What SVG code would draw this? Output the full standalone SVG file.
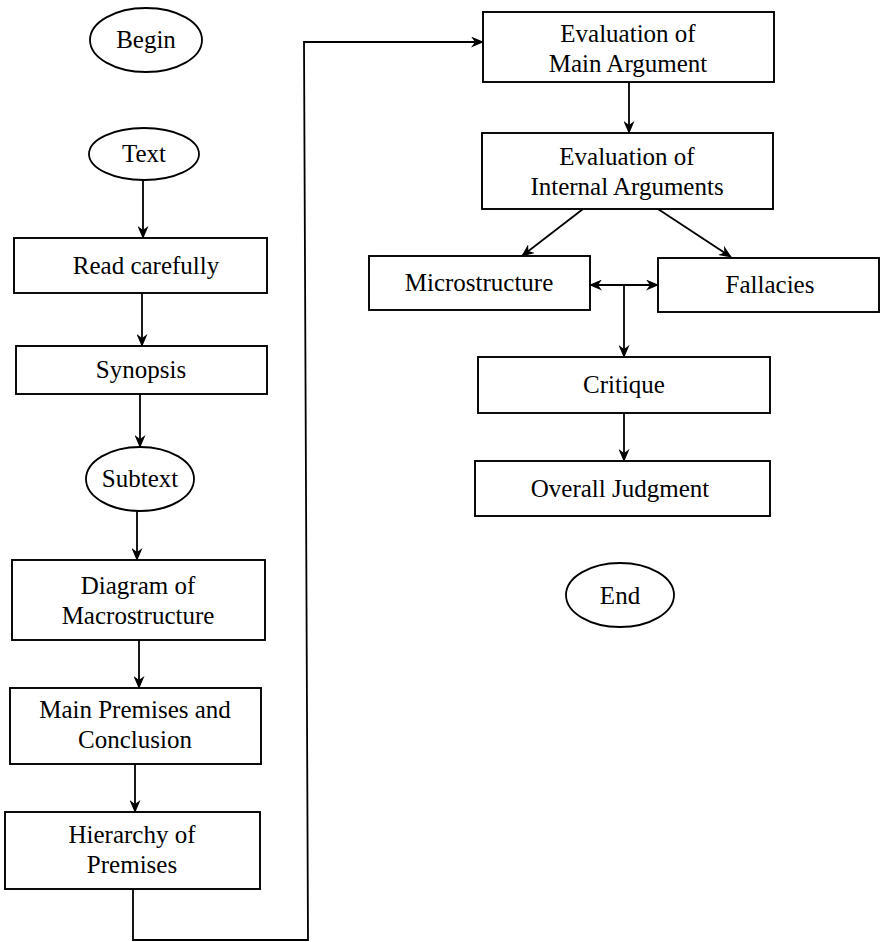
<svg xmlns="http://www.w3.org/2000/svg" width="882" height="942" viewBox="0 0 882 942">
  <defs>
    <marker id="arrow" viewBox="0 0 13 11" refX="12" refY="5.5" markerWidth="13" markerHeight="11" markerUnits="userSpaceOnUse" orient="auto-start-reverse">
      <path d="M0,0 L13,5.5 L0,11 L4,5.5 z" fill="#000"/>
    </marker>
  </defs>
  <style>
    .box { fill: #fff; stroke: #000; stroke-width: 1.9; }
    .oval { fill: #fff; stroke: #000; stroke-width: 1.8; }
    .label { font-family: "Liberation Serif", "Times New Roman", serif; font-size: 25px; fill: #000; text-anchor: middle; }
    .edge { fill: none; stroke: #000; stroke-width: 1.8; }
    .arrow { marker-end: url(#arrow); }
    .both { marker-start: url(#arrow); marker-end: url(#arrow); }
  </style>
  <rect width="882" height="942" fill="#fff"/>

  <!-- connectors -->
  <g id="connectors">
    <line class="edge arrow" x1="143" y1="180" x2="143" y2="238"/>
    <line class="edge arrow" x1="142" y1="293" x2="142" y2="346"/>
    <line class="edge arrow" x1="140" y1="394" x2="140" y2="447"/>
    <line class="edge arrow" x1="137" y1="511" x2="137" y2="560"/>
    <line class="edge arrow" x1="139" y1="640" x2="139" y2="688"/>
    <line class="edge arrow" x1="135" y1="764" x2="135" y2="812"/>
    <polyline class="edge arrow" points="133,889 133,940 308,940 304,42 483,42"/>
    <line class="edge arrow" x1="629" y1="82" x2="629" y2="133"/>
    <line class="edge arrow" x1="583" y1="209" x2="522" y2="256"/>
    <line class="edge arrow" x1="658" y1="209" x2="731" y2="257"/>
    <line class="edge both" x1="590" y1="285" x2="658" y2="285"/>
    <line class="edge arrow" x1="624" y1="285" x2="624" y2="357"/>
    <line class="edge arrow" x1="624" y1="413" x2="624" y2="461"/>
  </g>

  <!-- left column -->
  <g id="begin">
    <ellipse class="oval" cx="146" cy="40" rx="56" ry="32"/>
    <text class="label" x="146" y="48">Begin</text>
  </g>
  <g id="text">
    <ellipse class="oval" cx="144" cy="154" rx="55" ry="26"/>
    <text class="label" x="144" y="162">Text</text>
  </g>
  <g id="read-carefully">
    <rect class="box" x="14" y="238" width="253" height="55"/>
    <text class="label" x="146" y="274">Read carefully</text>
  </g>
  <g id="synopsis">
    <rect class="box" x="16" y="346" width="251" height="48"/>
    <text class="label" x="141" y="378">Synopsis</text>
  </g>
  <g id="subtext">
    <ellipse class="oval" cx="140" cy="479" rx="54" ry="32"/>
    <text class="label" x="140" y="487">Subtext</text>
  </g>
  <g id="diagram-of-macrostructure">
    <rect class="box" x="12" y="560" width="253" height="80"/>
    <text class="label" x="138" y="594">Diagram of</text>
    <text class="label" x="138" y="624">Macrostructure</text>
  </g>
  <g id="main-premises">
    <rect class="box" x="10" y="688" width="251" height="76"/>
    <text class="label" x="135" y="718">Main Premises and</text>
    <text class="label" x="135" y="748">Conclusion</text>
  </g>
  <g id="hierarchy-of-premises">
    <rect class="box" x="5" y="812" width="255" height="77"/>
    <text class="label" x="132" y="843">Hierarchy of</text>
    <text class="label" x="132" y="873">Premises</text>
  </g>

  <!-- right column -->
  <g id="evaluation-main">
    <rect class="box" x="483" y="12" width="291" height="70"/>
    <text class="label" x="628" y="42">Evaluation of</text>
    <text class="label" x="628" y="72">Main Argument</text>
  </g>
  <g id="evaluation-internal">
    <rect class="box" x="482" y="133" width="291" height="76"/>
    <text class="label" x="627" y="165">Evaluation of</text>
    <text class="label" x="627" y="195">Internal Arguments</text>
  </g>
  <g id="microstructure">
    <rect class="box" x="369" y="256" width="221" height="54"/>
    <text class="label" x="479" y="291">Microstructure</text>
  </g>
  <g id="fallacies">
    <rect class="box" x="658" y="258" width="221" height="54"/>
    <text class="label" x="770" y="293">Fallacies</text>
  </g>
  <g id="critique">
    <rect class="box" x="478" y="357" width="292" height="56"/>
    <text class="label" x="624" y="393">Critique</text>
  </g>
  <g id="overall-judgment">
    <rect class="box" x="475" y="461" width="295" height="55"/>
    <text class="label" x="620" y="497">Overall Judgment</text>
  </g>
  <g id="end">
    <ellipse class="oval" cx="620" cy="595" rx="54" ry="32"/>
    <text class="label" x="620" y="604">End</text>
  </g>
</svg>
